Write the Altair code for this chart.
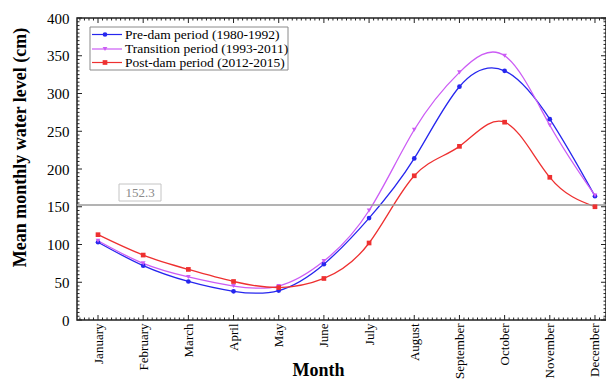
import json
import numpy as np
import pandas as pd
import altair as alt

# ---------------- data ----------------
MONTHS = ["January", "February", "March", "April", "May", "June", "July",
          "August", "September", "October", "November", "December"]
MONTH_NUM = list(range(1, 13))
SERIES = ["Pre-dam period (1980-1992)", "Transition period (1993-2011)",
          "Post-dam period (2012-2015)"]
PRE = [103, 72, 51, 38, 39, 74, 135, 214, 309, 330, 266, 164]
TRANS = [105, 75, 57, 45, 45, 78, 145, 252, 328, 350, 258, 165]
POST = [113, 86, 67, 51, 43, 55, 102, 191, 230, 262, 189, 150]
THRESHOLD = 152.3
Y_TICKS = list(range(0, 401, 50))

COLORS = ["#2626ee", "#cc5cf5", "#ee3030"]
SHAPES = ["circle", "triangle-down", "square"]

rows = []
for s, vals in zip(SERIES, [PRE, TRANS, POST]):
    for m, v in zip(MONTH_NUM, vals):
        rows.append({"series": s, "month": m, "level": v})
df = pd.DataFrame(rows)
thr_df = pd.DataFrame({"level": [THRESHOLD]})

# ---------------- layout ----------------
W, H = 529, 302
FONT = "Liberation Serif"
xscale = alt.Scale(domain=[0.535, 12.244], nice=False, zero=False)
yscale = alt.Scale(domain=[0, 400], nice=False)
x_minor = [float(round(v, 2)) for v in np.arange(0.6, 12.25, 0.1)
           if abs(v - round(v)) > 0.01]
y_minor = [v for v in range(0, 401, 5) if v % 50]

xmaj_df = pd.DataFrame({"month": MONTH_NUM})
xmin_df = pd.DataFrame({"month": x_minor})
ymaj_df = pd.DataFrame({"level": Y_TICKS})
ymin_df = pd.DataFrame({"level": y_minor})

label_expr = json.dumps(MONTHS) + "[round(datum.value) - 1]"


def X(axis=None):
    return alt.X("month:Q", scale=xscale, axis=axis)


def Y(axis=None):
    return alt.Y("level:Q", scale=yscale, axis=axis)


color = alt.Color("series:N", scale=alt.Scale(domain=SERIES, range=COLORS), legend=None)

x_main = alt.Axis(orient="bottom", values=MONTH_NUM, labelExpr=label_expr,
                  labelAngle=270, labelAlign="right", labelBaseline="middle",
                  labelFont=FONT, labelFontSize=13, labelPadding=3, labelOverlap=False,
                  labelFlush=False, ticks=False, domain=False, grid=False,
                  title="Month", titleFont=FONT, titleFontSize=18, titleFontWeight="bold",
                  titleX=241, titleY=41, titleBaseline="top", titleAlign="center")
y_main = alt.Axis(orient="left", values=Y_TICKS, labelFont=FONT, labelFontSize=15,
                  labelPadding=8, labelFlush=False, ticks=False, domain=False, grid=False,
                  title="Mean monthly water level (cm)", titleFont=FONT, titleFontSize=18,
                  titleFontWeight="bold", titleX=-57, titleY=129, titleAngle=270,
                  titleAlign="center", titleBaseline="middle")

# tick marks drawn inward on all four sides
TICK_C = "#222222"
ticks = []
for d, size in [(xmaj_df, 5), (xmin_df, 2.5)]:
    ticks.append(alt.Chart(d).mark_rule(color=TICK_C, strokeWidth=1).encode(
        x=X(), y=alt.value(H), y2=alt.value(H - size)))
    ticks.append(alt.Chart(d).mark_rule(color=TICK_C, strokeWidth=1).encode(
        x=X(), y=alt.value(0), y2=alt.value(size)))
for d, size in [(ymaj_df, 5), (ymin_df, 2.5)]:
    ticks.append(alt.Chart(d).mark_rule(color=TICK_C, strokeWidth=1).encode(
        y=Y(), x=alt.value(0), x2=alt.value(size)))
    ticks.append(alt.Chart(d).mark_rule(color=TICK_C, strokeWidth=1).encode(
        y=Y(), x=alt.value(W), x2=alt.value(W - size)))

rule = alt.Chart(thr_df).mark_rule(color="#9a9a9a", strokeWidth=1.5).encode(y=Y())

box = alt.Chart(thr_df).mark_rect(fill="white", stroke="#c4c4c4", strokeWidth=1,
                                  yOffset=-4, y2Offset=-21).encode(
    x=alt.value(42), x2=alt.value(84), y=Y(), y2=alt.Y2("level:Q"))
label = alt.Chart(thr_df).mark_text(font=FONT, fontSize=13, color="#8a8a8a",
                                    dy=-12.5).encode(
    x=alt.value(63), y=Y(), text=alt.Text("level:Q", format=".1f"))

lines = alt.Chart(df).mark_line(interpolate="natural", strokeWidth=1.3).encode(
    x=X(x_main), y=Y(y_main), color=color, detail="series:N")

points = []
for s, shp in zip(SERIES, SHAPES):
    points.append(
        alt.Chart(df).transform_filter(alt.datum.series == s)
        .mark_point(shape=shp, filled=True, size=22, opacity=1)
        .encode(x=X(), y=Y(), color=color)
    )

# ---------------- legend (drawn as marks, top-left inside the plot) ----------------
legend_layers = [
    alt.Chart(thr_df).mark_rect(fill="white", stroke="#8a8a8a", strokeWidth=1).encode(
        x=alt.value(13), x2=alt.value(211), y=alt.value(9), y2=alt.value(52))
]
ROW_Y = [16.5, 31, 44.5]
for s, c, shp, yy in zip(SERIES, COLORS, SHAPES, ROW_Y):
    one = pd.DataFrame({"series": [s]})
    legend_layers.append(alt.Chart(one).mark_rule(color=c, strokeWidth=1.2).encode(
        x=alt.value(15), x2=alt.value(45), y=alt.value(yy)))
    legend_layers.append(alt.Chart(one).mark_point(shape=shp, filled=True, size=22,
                                                   color=c, opacity=1).encode(
        x=alt.value(28), y=alt.value(yy)))
    legend_layers.append(alt.Chart(one).mark_text(font=FONT, fontSize=13.5, align="left",
                                                  baseline="middle", color="black").encode(
        x=alt.value(48), y=alt.value(yy), text="series:N"))

chart = alt.layer(lines, rule, *ticks, *points, box, label, *legend_layers).resolve_axis(
    x="independent", y="independent"
).properties(
    width=W, height=H,
    autosize=alt.AutoSizeParams(type="none"),
    padding={"left": 69, "top": 10, "right": 0, "bottom": 60},
).configure_view(
    stroke="#222", strokeWidth=1.5
).configure_axis(
    labelFont=FONT, titleFont=FONT, labelColor="black", titleColor="black"
)

chart.save("out.html", embed_options={"renderer": "svg", "actions": False})
